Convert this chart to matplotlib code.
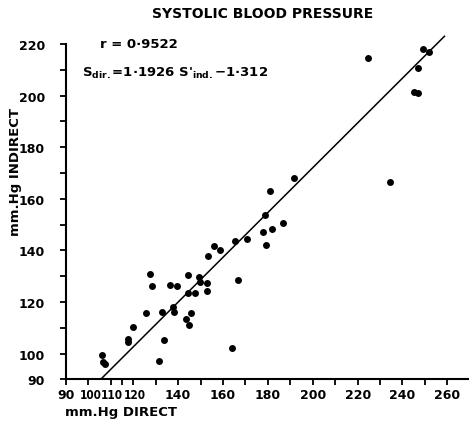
import matplotlib
matplotlib.use("Agg")
import matplotlib.pyplot as plt
from matplotlib import font_manager
from matplotlib.transforms import ScaledTranslation

# readings (mm Hg) taken off the scanned chart
direct = [127.4, 128.5, 136.4, 139.6, 144.3, 149.4, 149.7, 152.7, 153.0, 144.3,
          147.6, 166.8, 125.7, 132.7, 137.8, 138.1, 145.9, 143.5, 144.8, 119.9,
          117.5, 117.5, 133.8, 163.9, 105.9, 106.6, 107.5, 131.3, 191.6, 181.1,
          178.7, 186.6, 181.8, 177.7, 179.3, 170.8, 165.3, 156.1, 158.5, 153.4,
          224.5, 249.3, 251.8, 246.9, 245.3, 246.8, 234.3]
indirect = [130.9, 126.1, 126.5, 126.2, 130.6, 129.8, 127.6, 127.4, 124.3, 123.6,
            123.5, 128.5, 115.9, 116.0, 118.2, 116.0, 115.9, 113.5, 111.1, 110.4,
            105.7, 104.6, 105.3, 102.2, 99.6, 96.9, 96.0, 97.2, 168.1, 162.9,
            153.8, 150.7, 148.4, 147.0, 142.2, 144.4, 143.5, 141.7, 140.3, 138.0,
            214.7, 218.1, 217.0, 210.6, 201.3, 200.9, 166.4]

# fitted line end points
fit_x = [105.9, 258.7]
fit_y = [90.4, 223.0]

x_ticks = [90, 100, 110, 115, 120, 130, 140, 150, 160, 170, 180, 190, 200,
           210, 220, 230, 240, 250, 260]
x_labels = ["90", "100", "110", "", "120", "", "140", "", "160", "", "180", "",
            "200", "", "220", "", "240", "", "260"]
y_ticks = [90, 100, 110, 120, 130, 140, 150, 160, 170, 180, 190, 200, 210, 220]
y_labels = ["90", "100", "", "120", "", "140", "", "160", "", "180", "", "200",
            "", "220"]

plt.rcParams['font.family'] = ['DejaVu Sans']
plt.rcParams['font.weight'] = 'bold'
plt.rcParams['mathtext.default'] = 'bf'

# look for a narrow face for the crowded labels near the origin
narrow = None
for f in font_manager.fontManager.ttflist:
    if f.name == 'DejaVu Sans' and f.stretch == 'condensed':
        narrow = {'family': 'DejaVu Sans', 'stretch': 'condensed', 'size': 8.5}
        break
if narrow is None:
    for f in font_manager.fontManager.ttflist:
        if f.name == 'Liberation Sans Narrow':
            narrow = {'family': 'Liberation Sans Narrow', 'stretch': 'normal', 'size': 10.5}
            break
if narrow is None:
    narrow = {'family': 'DejaVu Sans', 'stretch': 'normal', 'size': 8}

fig = plt.figure(figsize=(4.69, 4.27), dpi=100)
ax = fig.add_axes([66 / 469, 1 - 380.4 / 427, 402 / 469, 345.7 / 427])

ax.plot(fit_x, fit_y, color='black', lw=1.1)
ax.plot(direct, indirect, 'o', color='black', ms=5, mew=0)

ax.set_xlim(90, 269.2)
ax.set_ylim(90, 224)
ax.spines['top'].set_visible(False)
ax.spines['right'].set_visible(False)
ax.spines['left'].set_bounds(90, 220)
ax.spines['left'].set_linewidth(1.5)
ax.spines['bottom'].set_linewidth(1.5)

ax.set_xticks(x_ticks)
ax.set_xticklabels(x_labels)
ax.set_yticks(y_ticks)
ax.set_yticklabels(y_labels)
ax.tick_params(axis='x', direction='out', length=4, width=1.3, pad=2, labelsize=9)
ax.tick_params(axis='y', direction='out', length=4, width=1.3, pad=11, labelsize=9)

shifts = {"100": 2, "110": 1, "120": 2}
for lab in ax.get_xticklabels():
    t = lab.get_text()
    if t in shifts:
        lab.set_family(narrow['family'])
        lab.set_stretch(narrow['stretch'])
        lab.set_fontsize(narrow['size'])
        lab.set_fontweight('bold')
        lab.set_transform(lab.get_transform() +
                          ScaledTranslation(shifts[t] / 100, 0, fig.dpi_scale_trans))

fig.text(263 / 469, 1 - 14 / 427, "SYSTOLIC BLOOD PRESSURE", ha='center',
         va='center', fontsize=10, fontweight='bold')
fig.text(100 / 469, 1 - 45 / 427, "r = 0·9522", ha='left', va='center',
         fontsize=9.5, fontweight='bold')
fig.text(82 / 469, 1 - 77 / 427,
         r"S$_{dir.}$=1·1926 S$'_{ind.}$$-$1·312", ha='left', va='baseline',
         fontsize=9.5, fontweight='bold')
fig.text(15 / 469, 1 - 172 / 427, "mm.Hg INDIRECT", rotation=90, ha='center',
         va='center', fontsize=9.5, fontweight='bold')
fig.text(65 / 469, 1 - 413 / 427, "mm.Hg DIRECT", ha='left', va='center',
         fontsize=9.5, fontweight='bold')

fig.savefig("out.png", dpi=100)
